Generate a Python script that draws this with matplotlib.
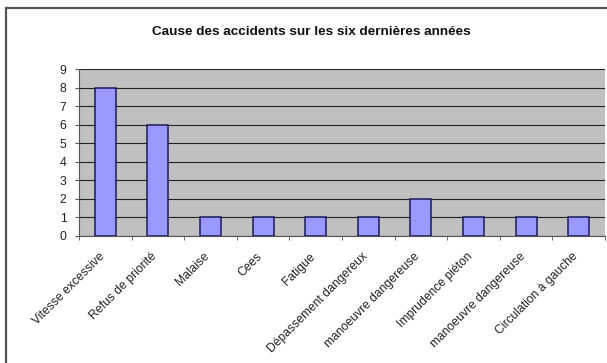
import numpy as np
import matplotlib.pyplot as plt
import matplotlib.transforms as mtransforms
from matplotlib.patches import Rectangle

plt.rcParams['font.family'] = ['Liberation Sans', 'DejaVu Sans']

# données
causes = ['Vitesse excessive', 'Refus de priorité', 'Malaise', 'Cees', 'Fatigue',
          'Dépassement dangereux', 'manoeuvre dangereuse', 'Imprudence piéton',
          'manoeuvre dangereuse', 'Circulation à gauche']
nb_accidents = [8, 6, 1, 1, 1, 1, 2, 1, 1, 1]
y_ticks = list(range(0, 10))

fig = plt.figure(figsize=(6.07, 3.63), dpi=100)
fig.patch.set_facecolor('white')

# cadre extérieur
fig.patches.append(Rectangle((6/607, -0.1), 1.2, 1 - 8/363 + 0.1, transform=fig.transFigure,
                             fill=False, edgecolor='#555555', linewidth=1.6))

ax = fig.add_axes([79/607, 1 - 236/363, 526/607, 167/363])
ax.set_facecolor('#c0c0c0')

x = np.arange(len(causes))
ax.bar(x, nb_accidents, width=0.4, color='#9999ff', edgecolor='#1a1a5a', linewidth=1.1, zorder=3)

ax.set_xlim(-0.5, len(causes) - 0.5)
ax.set_ylim(0, 9)
ax.set_yticks(y_ticks)
ax.yaxis.grid(True, color='#222222', linewidth=0.8, zorder=1)

ax.set_xticks(x)
ax.set_xticklabels(causes, rotation=45, ha='right', rotation_mode='anchor', fontsize=8.7, color='#222222')
ax.tick_params(axis='x', which='major', length=0, pad=9)
# décaler les étiquettes un peu vers la gauche
decal = mtransforms.ScaledTranslation(-7/100, -2/100, fig.dpi_scale_trans)
for lab in ax.get_xticklabels():
    lab.set_transform(lab.get_transform() + decal)
ax.set_xticks(np.arange(-0.5, len(causes), 1), minor=True)
ax.tick_params(axis='x', which='minor', length=3, color='#555555', direction='out')
ax.tick_params(axis='y', length=3, color='#555555', labelsize=8.7, pad=6, labelcolor='#222222')

for s in ['top', 'right']:
    ax.spines[s].set_visible(False)
ax.spines['left'].set_color('#555555')
ax.spines['bottom'].set_color('#555555')

fig.text(311/607, 1 - 32/363, 'Cause des accidents sur les six dernières années',
         ha='center', va='center', fontsize=9.7, fontweight='bold', color='#111111')

fig.savefig('out.png', dpi=100)
